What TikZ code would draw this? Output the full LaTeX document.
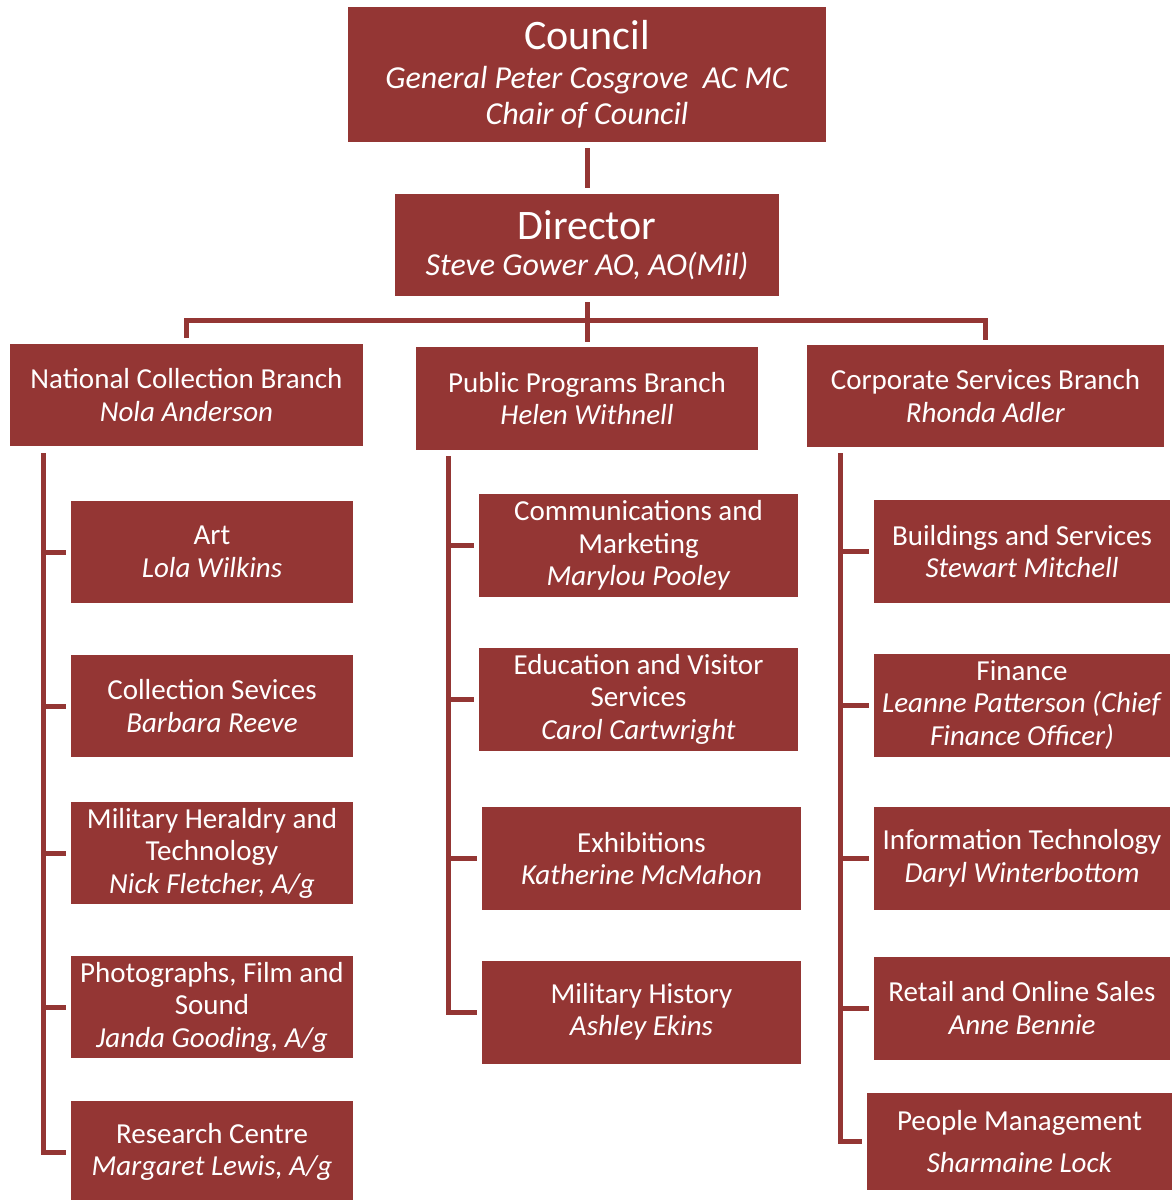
\documentclass[tikz,border=0pt]{standalone}
\usepackage{fontspec}
\setmainfont{Carlito}
\usetikzlibrary{positioning}
\definecolor{awmred}{HTML}{943634}
\tikzset{
  box/.style={fill=awmred, text=white, align=center, inner sep=0pt,
    font=\fontsize{29}{32.5}\selectfont},
  brbox/.style={box, minimum width=350pt, minimum height=102pt},
  lbox/.style={box, minimum width=282pt, minimum height=102pt},
  mbox/.style={box, minimum width=319pt, minimum height=103pt},
  rbox/.style={box, minimum width=296pt, minimum height=103pt},
  link/.style={draw=awmred, line width=5pt},
}
\newcommand{\who}[1]{\textit{#1}}
\newcommand{\bigtitle}{\fontsize{42}{42}\selectfont\upshape}
\newcommand{\subtitle}{\fontsize{32}{36}\selectfont\itshape}
\begin{document}
\begin{tikzpicture}[x=1pt,y=-1pt]
\useasboundingbox (0,0) rectangle (1175,1200);

% top of the tree
\node[box, font=\subtitle, minimum width=478pt, minimum height=135pt] (council) at (587,74.5)
  {{\bigtitle Council}\\[3pt]
   General Peter Cosgrove\ \ AC MC\\Chair of Council};
\node[box, font=\subtitle, minimum width=384pt, minimum height=102pt] (director) at (587,245)
  {{\bigtitle Director}\\
   Steve Gower AO, AO(Mil)};

% branches
\node[brbox, minimum width=353pt] (ncb) at (186.5,395)
  {National Collection Branch\\\who{Nola Anderson}};
\node[brbox, minimum width=342pt, minimum height=103pt] (ppb) at (587,398.5)
  {Public Programs Branch\\\who{Helen Withnell}};
\node[brbox, minimum width=357pt] (csb) at (985.5,396)
  {Corporate Services Branch\\\who{Rhonda Adler}};

% national collection
\node[lbox] (art) at (212,552) {Art\\\who{Lola Wilkins}};
\node[lbox] (colsvc) at (212,706) {Collection Sevices\\\who{Barbara Reeve}};
\node[lbox] (heraldry) at (212,853)
  {Military Heraldry and\\Technology\\\who{Nick Fletcher, A/g}};
\node[lbox] (photo) at (212,1007)
  {Photographs, Film and\\Sound\\\who{Janda Gooding, A/g}};
\node[lbox] (research) at (212,1152) {Research Centre\\\who{Margaret Lewis, A/g}};

% public programs
\node[mbox] (comms) at (638.5,545.5)
  {Communications and\\Marketing\\\who{Marylou Pooley}};
\node[mbox] (educ) at (638.5,699)
  {Education and Visitor\\Services\\\who{Carol Cartwright}};
\node[mbox] (exhib) at (641.5,858.5) {Exhibitions\\\who{Katherine McMahon}};
\node[mbox] (milhist) at (641.5,1012) {Military History\\\who{Ashley Ekins}};

% corporate services
\node[rbox] (build) at (1022,551.5) {Buildings and Services\\\who{Stewart Mitchell}};
\node[rbox] (finance) at (1022,705)
  {Finance\\\who{Leanne Patterson (Chief}\\\who{Finance Officer)}};
\node[rbox] (infotech) at (1022,858.5) {Information Technology\\\who{Daryl Winterbottom}};
\node[rbox] (retail) at (1022,1008) {Retail and Online Sales\\\who{Anne Bennie}};
\node[rbox, minimum width=305pt, minimum height=97pt] (people) at (1019.5,1141.5)
  {People Management\\[10pt]\who{Sharmaine Lock}};

% connectors
\draw[link, shorten <=6pt, shorten >=6pt] (council) -- (director);
\coordinate (bus) at (587,320);
\draw[link] ([yshift=-6pt]director.south) -- ([yshift=5pt]ppb.north);
\draw[link] ([yshift=6pt]ncb.north) |- (bus) -| ([yshift=5pt]csb.north);

\coordinate (lspine) at (43,453);
\coordinate (mspine) at (448,456);
\coordinate (rspine) at (840,453);
\draw[link] (lspine) |- ([xshift=-5pt]research.west);
\draw[link] (mspine) |- ([xshift=-5pt]milhist.west);
\draw[link] (rspine) |- ([xshift=-5pt]people.west);
\foreach \n in {art,colsvc,heraldry,photo}
  \draw[link] (\n.west -| lspine) -- ([xshift=-5pt]\n.west);
\foreach \n in {comms,educ,exhib}
  \draw[link] (\n.west -| mspine) -- ([xshift=-5pt]\n.west);
\foreach \n in {build,finance,infotech,retail}
  \draw[link] (\n.west -| rspine) -- ([xshift=-5pt]\n.west);
\end{tikzpicture}
\end{document}
